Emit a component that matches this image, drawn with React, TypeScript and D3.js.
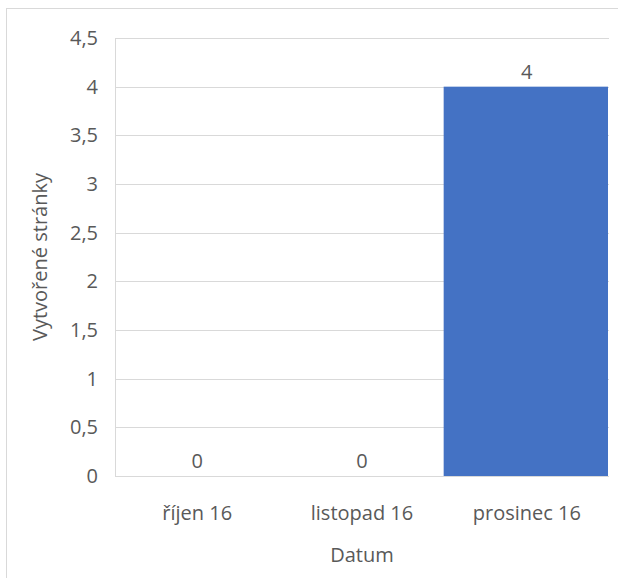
import React from "react";
import * as d3 from "d3";

const categories = ["říjen 16", "listopad 16", "prosinec 16"];
const values = [0, 0, 4];
const yTicks = [0, 0.5, 1, 1.5, 2, 2.5, 3, 3.5, 4, 4.5];
const yTitle = "Vytvořené stránky";
const xTitle = "Datum";

const W = 618;
const H = 578;
const FONT = "'Open Sans', sans-serif";
const FS = 20;
const TXT = "#595959";
const GRID = "#d9d9d9";
const BAR = "#4472c4";

export default function App() {
  const left = 115, right = 609, top = 38, bottom = 476;
  const x = d3.scaleBand<string>().domain(categories).range([left, right]).paddingInner(0.003).paddingOuter(0.0);
  const y = d3.scaleLinear().domain([0, 4.5]).range([bottom, top]);
  const fmt = (v: number) => String(v).replace(".", ",");
  return (
    <svg width={W} height={H} style={{ position: "absolute", left: 0, top: 0, display: "block" }}>
      <rect x={0} y={0} width={W} height={H} fill="#fff" />
      <rect x={6.5} y={8.5} width={W + 10} height={H + 10} fill="none" stroke={GRID} strokeWidth={1} />
      {yTicks.map((t) => (
        <g key={t}>
          <line x1={left} x2={right} y1={Math.round(y(t)) + 0.5} y2={Math.round(y(t)) + 0.5} stroke={GRID} strokeWidth={1} />
          <text x={98} y={y(t)} dy="0.35em" textAnchor="end" fontFamily={FONT} fontSize={FS} fill={TXT}>{fmt(t)}</text>
        </g>
      ))}
      <line x1={left + 0.5} x2={left + 0.5} y1={top} y2={bottom} stroke={GRID} strokeWidth={1} />
      {categories.map((c, i) => {
        const bx = x(c)!;
        const bw = x.bandwidth();
        const v = values[i];
        return (
          <g key={c}>
            {v > 0 && <rect x={bx - 1} y={y(v)} width={bw} height={y(0) - y(v)} fill={BAR} />}
            <text x={bx + bw / 2} y={y(v) - 8} textAnchor="middle" fontFamily={FONT} fontSize={FS} fill={TXT}>{v}</text>
            <text x={bx + bw / 2} y={520} textAnchor="middle" fontFamily={FONT} fontSize={FS} fill={TXT}>{c}</text>
          </g>
        );
      })}
      <line x1={left} x2={right} y1={bottom + 0.5} y2={bottom + 0.5} stroke={GRID} strokeWidth={1} />
      <text x={(left + right) / 2} y={562} textAnchor="middle" fontFamily={FONT} fontSize={FS} fill={TXT}>{xTitle}</text>
      <text transform={`translate(47, ${(top + bottom) / 2}) rotate(-90)`} textAnchor="middle" fontFamily={FONT} fontSize={FS} fill={TXT}>{yTitle}</text>
    </svg>
  );
}
